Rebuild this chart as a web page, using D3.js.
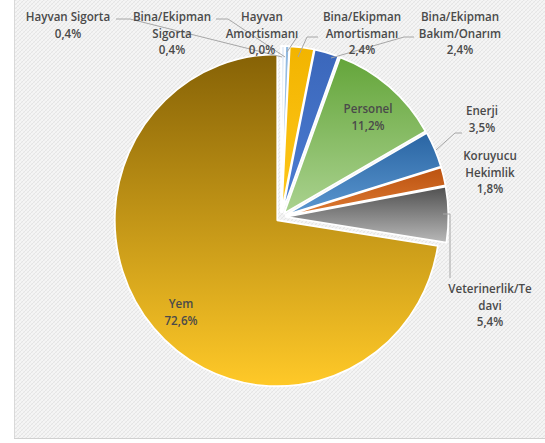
<!DOCTYPE html>
<html><head><meta charset="utf-8">
<script src="https://cdn.jsdelivr.net/npm/d3@7"></script>
<style>html,body{margin:0;padding:0;background:#fff;}svg{display:block;}</style>
</head><body>
<svg id="chart" width="545" height="443"></svg>
<script>
// ---- data ----
const categories = ["Hayvan Sigorta","Bina/Ekipman Sigorta","Hayvan Amortismanı","Bina/Ekipman Amortismanı","Bina/Ekipman Bakım/Onarım","Personel","Enerji","Koruyucu Hekimlik","Veterinerlik/Tedavi","Yem"];
const values = [0.4,0.4,0.0,2.4,2.4,11.2,3.5,1.8,5.4,72.6];
const valueLabels = ["0,4%","0,4%","0,0%","2,4%","2,4%","11,2%","3,5%","1,8%","5,4%","72,6%"];
const labelLines = [["Hayvan Sigorta"],["Bina/Ekipman","Sigorta"],["Hayvan","Amortismanı"],["Bina/Ekipman","Amortismanı"],["Bina/Ekipman","Bakım/Onarım"],["Personel"],["Enerji"],["Koruyucu","Hekimlik"],["Veterinerlik/Te","davi"],["Yem"]];

// ---- styles / layout ----
const gradTop = ["#e6eef8","#8fb8e0","#ffffff","#f2b400","#3b67bb","#64a53a","#2a65a3","#bb5210","#505050","#866206"];
const gradBot = ["#f4f8fc","#b5d2ee","#ffffff","#ffc81a","#4c7dd2","#aad28f","#5b97d0","#de7a32","#b8b8b8","#ffc928"];
const labelPos = [[68,18],[172,18],[262,18],[362,18],[460,18],[368,110],[482,112],[490,157],[490,290],[181,305]];
const cx = 281, cy = 217, R = 166, sx = 162.5/166, explode = 5, lh = 16.5;

const svg = d3.select("#chart");
const defs = svg.append("defs");
const pat = defs.append("pattern").attr("id","bgp").attr("patternUnits","userSpaceOnUse").attr("width",4).attr("height",4);
pat.append("rect").attr("width",4).attr("height",4).attr("fill","#f5f5f5");
pat.append("path").attr("d","M0,4 L4,0 M-1,1 L1,-1 M3,5 L5,3").attr("stroke","#e5e5e5").attr("stroke-width",1);
pat.append("path").attr("d","M0,0 L4,4").attr("stroke","#ececec").attr("stroke-width",0.7);

svg.append("rect").attr("x",14).attr("y",0).attr("width",531).attr("height",438).attr("fill","url(#bgp)");
svg.append("line").attr("x1",14.5).attr("y1",0).attr("x2",14.5).attr("y2",438).attr("stroke","#d9d9d9");
svg.append("line").attr("x1",14).attr("y1",438.5).attr("x2",545).attr("y2",438.5).attr("stroke","#d0d0d0");

values.forEach((v,i)=>{
  const g = defs.append("linearGradient").attr("id","g"+i).attr("x1",0).attr("y1",0).attr("x2",0).attr("y2",1);
  g.append("stop").attr("offset","0%").attr("stop-color",gradTop[i]);
  g.append("stop").attr("offset","100%").attr("stop-color",gradBot[i]);
});

const pie = d3.pie().sort(null).value(d=>d).startAngle(0).endAngle(2*Math.PI);
const arcs = pie(values);
const arc = d3.arc().innerRadius(0).outerRadius(R);

const pg = svg.append("g").attr("transform",`translate(${cx},${cy}) scale(${sx},1)`);
pg.selectAll("path").data(arcs).join("path")
  .attr("d", d=> d.endAngle-d.startAngle>0 ? arc(d) : null)
  .attr("transform", d=>{const m=(d.startAngle+d.endAngle)/2; return `translate(${explode*Math.sin(m)},${-explode*Math.cos(m)})`;})
  .attr("fill",(d,i)=>`url(#g${i})`)
  .attr("stroke","#ffffff").attr("stroke-width",1.8).attr("stroke-linejoin","round");

// leader lines
const leaders = [
  [[116,19],[130,19],[282,57]],
  [[216,19],[228,19],[285,57]],
  [[297,37],[287,52]],
  [[318,37],[307,37],[298,57]],
  [[414,37],[404,37],[331,58]],
  null,
  [[462,133],[455,133],[436,150]],
  null,
  [[443,214],[450,214],[450,278]],
  null
];
const lineGen = d3.line();
svg.append("g").selectAll("path").data(leaders.filter(d=>d)).join("path")
  .attr("d", d=>lineGen(d)).attr("fill","none").attr("stroke","#a6a6a6").attr("stroke-width",1);

// labels
const lg = svg.append("g").attr("font-family","'Open Sans', sans-serif").attr("font-size","11.6px").attr("font-weight","600").attr("fill","#4a4a4a").attr("text-anchor","middle");
categories.forEach((c,i)=>{
  const [x,y] = labelPos[i];
  const lines = labelLines[i].concat([valueLabels[i]]);
  const t = lg.append("text").attr("x",x).attr("y",y).attr("dominant-baseline","middle");
  lines.forEach((s,k)=> t.append("tspan").attr("x",x).attr("dy",k===0?0:lh).text(s));
});
</script>
</body></html>
